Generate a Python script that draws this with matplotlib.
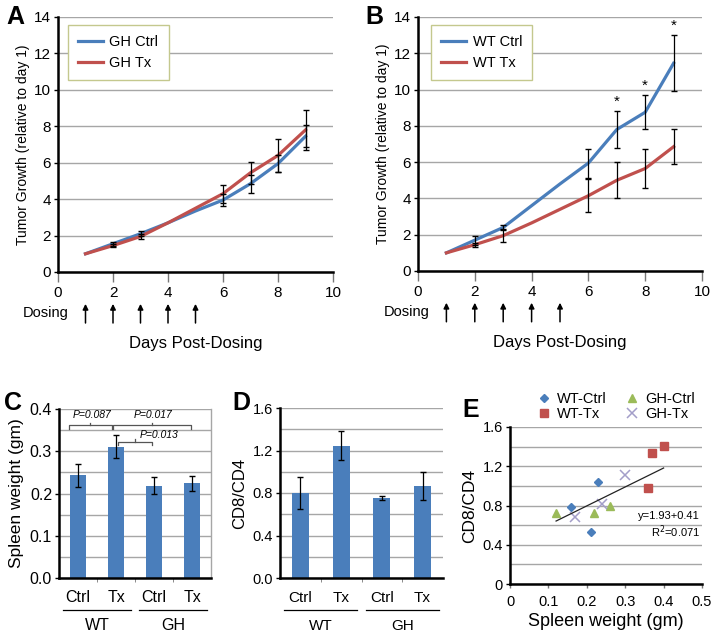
import matplotlib
matplotlib.use('Agg')
from matplotlib import pyplot as plt
import numpy as np

plt.rcParams['font.family'] = ['Liberation Sans', 'DejaVu Sans']

# --- tumour growth, panels A and B ---
days = [1, 2, 3, 4, 5, 6, 7, 8, 9]
gh_ctrl = [1.0, 1.55, 2.1, 2.7, 3.35, 3.95, 4.85, 5.95, 7.45]
gh_ctrl_err = [np.nan, 0.1, 0.15, np.nan, np.nan, 0.35, 0.5, 0.45, 0.6]
gh_tx = [1.0, 1.45, 1.95, 2.7, 3.5, 4.3, 5.45, 6.4, 7.8]
gh_tx_err = [np.nan, 0.1, 0.15, np.nan, np.nan, 0.5, 0.6, 0.9, 1.1]
wt_ctrl = [1.0, 1.7, 2.4, 3.6, 4.8, 5.95, 7.8, 8.75, 11.45]
wt_ctrl_err = [np.nan, 0.25, 0.15, np.nan, np.nan, 0.8, 1.0, 0.95, 1.55]
wt_tx = [1.0, 1.45, 1.95, 2.65, 3.4, 4.15, 5.0, 5.65, 6.85]
wt_tx_err = [np.nan, 0.1, 0.35, np.nan, np.nan, 0.9, 1.0, 1.1, 0.95]
star_days = [7, 8, 9]
dosing_days = [1, 2, 3, 4, 5]

# --- bar panels C and D ---
bar_labels = ['Ctrl', 'Tx', 'Ctrl', 'Tx']
groups = ['WT', 'GH']
spleen = [0.243, 0.311, 0.218, 0.224]
spleen_err = [0.027, 0.028, 0.02, 0.018]
cd_ratio = [0.80, 1.245, 0.755, 0.865]
cd_ratio_err = [0.15, 0.135, 0.02, 0.13]
p_labels = ['P=0.087', 'P=0.017', 'P=0.013']

# --- scatter panel E ---
wtc_x, wtc_y = [0.16, 0.23, 0.21], [0.785, 1.04, 0.525]
wtt_x, wtt_y = [0.37, 0.40, 0.36], [1.34, 1.41, 0.975]
ghc_x, ghc_y = [0.12, 0.22, 0.26], [0.72, 0.72, 0.80]
ght_x, ght_y = [0.17, 0.24, 0.30], [0.68, 0.815, 1.11]
fit_slope, fit_icept, fit_r2 = 1.93, 0.41, 0.071

BLUE = '#4a7ebb'
RED = '#c0504d'
GRID = '#a6a6a6'

W, H = 715, 639
fig = plt.figure(figsize=(W / 100, H / 100), dpi=100)


def box(l, r, t, b):
    return fig.add_axes([l / W, 1 - b / H, (r - l) / W, (b - t) / H])


def style(ax):
    for s in ['top', 'right']:
        ax.spines[s].set_visible(False)
    ax.spines['left'].set_linewidth(1.8)
    ax.spines['bottom'].set_linewidth(1.8)
    ax.set_axisbelow(True)
    ax.yaxis.grid(True, color=GRID, lw=1)
    ax.tick_params(length=3, width=1, color='k', pad=2)


def growth(ax, c, ce, t, te, names, stars, legx):
    style(ax)
    ax.plot(days, c, color=BLUE, lw=2.3, label=names[0])
    ax.plot(days, t, color=RED, lw=2.3, label=names[1])
    ax.errorbar(days, c, yerr=ce, fmt='none', ecolor='k', elinewidth=0.9, capsize=2.5)
    ax.errorbar(days, t, yerr=te, fmt='none', ecolor='k', elinewidth=0.9, capsize=2.5)
    for d in stars:
        i = days.index(d)
        ax.text(d, c[i] + ce[i] + 0.15, '*', ha='center', va='bottom', fontsize=11)
    ax.set_xlim(0, 10)
    ax.set_ylim(0, 14)
    ax.set_xticks(range(0, 11, 2))
    ax.set_yticks(range(0, 15, 2))
    ax.tick_params(labelsize=11)
    ax.tick_params(axis='x', length=7, color='#777777', pad=3)
    ax.set_ylabel('Tumor Growth (relative to day 1)', fontsize=10, labelpad=3)
    leg = ax.legend(loc='upper left', bbox_to_anchor=(legx, 0.969), fontsize=10.5,
                    handlelength=1.7, handletextpad=0.45, borderpad=0.7,
                    labelspacing=0.45, borderaxespad=0,
                    fancybox=False, framealpha=1)
    leg.get_frame().set_edgecolor('#c4c88e')
    leg.get_frame().set_linewidth(1)
    tr = ax.get_xaxis_transform()
    ax.text(0.4, -0.16, 'Dosing', transform=tr, ha='right', va='center', fontsize=10.5)
    for d in dosing_days:
        ax.annotate('', xy=(d, -0.125), xytext=(d, -0.2), xycoords=tr, textcoords=tr,
                    arrowprops=dict(arrowstyle='-|>', color='k', lw=1.1,
                                    mutation_scale=8, shrinkA=0, shrinkB=0))
    ax.text(0.5, -0.28, 'Days Post-Dosing', transform=ax.transAxes,
            ha='center', va='center', fontsize=12)


axA = box(58, 333, 17, 272)
growth(axA, gh_ctrl, gh_ctrl_err, gh_tx, gh_tx_err, ['GH Ctrl', 'GH Tx'], [], 0.036)
axB = box(418, 702, 17, 271)
growth(axB, wt_ctrl, wt_ctrl_err, wt_tx, wt_tx_err, ['WT Ctrl', 'WT Tx'], star_days, 0.046)


def bars(ax, vals, errs, ymax, major, minor, fs, yl):
    style(ax)
    x = np.arange(len(vals))
    ax.bar(x, vals, width=0.42, color=BLUE)
    ax.errorbar(x, vals, yerr=errs, fmt='none', ecolor='k', elinewidth=0.9, capsize=2.5)
    ax.set_xlim(-0.5, len(vals) - 0.5)
    ax.set_ylim(0, ymax)
    ax.set_yticks(np.arange(0, ymax + 1e-9, major))
    ax.set_yticks(np.arange(0, ymax + 1e-9, minor), minor=True)
    ax.yaxis.grid(True, which='both', color=GRID, lw=1)
    ax.tick_params(axis='y', which='minor', length=0)
    ax.set_xticks(x)
    ax.set_xticklabels(bar_labels, fontsize=fs)
    ax.set_xticks([0.5, 1.5, 2.5], minor=True)
    ax.tick_params(axis='x', which='major', length=0, pad=9)
    ax.tick_params(axis='x', which='minor', length=3, color='#777777')
    ax.tick_params(axis='y', labelsize=fs)
    ax.set_ylabel(yl, fontsize=fs + 1)
    tr = ax.get_xaxis_transform()
    for gi, g in enumerate(groups):
        a, b = gi * 2 - 0.4, gi * 2 + 1.4
        ax.plot([a, b], [-0.19, -0.19], transform=tr, color='k', lw=0.9, clip_on=False)
        ax.text(gi * 2 + 0.5, -0.28, g, transform=tr, ha='center', va='center', fontsize=fs)


axC = box(59, 211, 409, 578)
bars(axC, spleen, spleen_err, 0.4, 0.1, 0.05, 11.5, 'Spleen weight (gm)')
axC.spines['right'].set_visible(True)
axC.spines['right'].set_color(GRID)
axC.spines['right'].set_linewidth(1)


def bracket(ax, x0, x1, y, label, tx, ty, ha='center', dy=0.008):
    xm = (x0 + x1) / 2
    ax.plot([x0, x0, x1, x1], [y - dy, y, y, y - dy], color='#555555', lw=0.9)
    ax.plot([xm, xm], [y, y + dy * 0.8], color='#555555', lw=0.9)
    ax.text(tx, ty, label, ha=ha, va='center', fontsize=7.5, style='italic')


bracket(axC, -0.24, 0.89, 0.361, p_labels[0], 0.37, 0.386)
bracket(axC, 0.92, 2.97, 0.361, p_labels[1], 1.97, 0.386)
bracket(axC, 1.05, 1.95, 0.322, p_labels[2], 1.62, 0.338, ha='left')

axD = box(280, 443, 408, 578)
bars(axD, cd_ratio, cd_ratio_err, 1.6, 0.4, 0.2, 11, 'CD8/CD4')
axD.tick_params(axis='y', labelsize=10.5)

# --- panel E ---
axE = box(510, 702, 427, 584)
style(axE)
axE.plot(wtc_x, wtc_y, 'D', color=BLUE, ms=4.5, ls='none', label='WT-Ctrl')
axE.plot(wtt_x, wtt_y, 's', color=RED, ms=6, ls='none', label='WT-Tx')
axE.plot(ghc_x, ghc_y, '^', color='#9bbb59', ms=6, ls='none', label='GH-Ctrl')
axE.plot(ght_x, ght_y, 'x', color='#a39ec9', ms=7, mew=1.1, ls='none', label='GH-Tx')
all_x = wtc_x + wtt_x + ghc_x + ght_x
fx = np.array([min(all_x), max(all_x)])
axE.plot(fx, fit_slope * fx + fit_icept, color='#222222', lw=0.9)
axE.text(0.495, 0.69, 'y=%.2f+%.2f' % (fit_slope, fit_icept), ha='right', va='center',
         fontsize=8)
axE.text(0.495, 0.53, 'R$^2$=%.3f' % fit_r2, ha='right', va='center', fontsize=8)
axE.set_xlim(0, 0.5)
axE.set_ylim(0, 1.6)
axE.set_xticks(np.arange(0, 0.51, 0.1))
axE.set_xticklabels(['0', '0.1', '0.2', '0.3', '0.4', '0.5'])
axE.set_yticks(np.arange(0, 1.61, 0.4))
axE.set_yticklabels(['0', '0.4', '0.8', '1.2', '1.6'])
axE.set_yticks(np.arange(0, 1.61, 0.2), minor=True)
axE.yaxis.grid(True, which='both', color=GRID, lw=1)
axE.tick_params(axis='y', which='minor', length=0)
axE.tick_params(labelsize=10.5)
axE.tick_params(axis='x', color='#777777', pad=5)
axE.set_ylabel('CD8/CD4', fontsize=12.5)
axE.set_xlabel('Spleen weight (gm)', fontsize=13, labelpad=3)
axE.legend(ncol=2, loc='lower center', bbox_to_anchor=(0.55, 0.98), frameon=False,
           fontsize=10.5, handlelength=1.0, handletextpad=0.4, columnspacing=1.2,
           labelspacing=0.1, borderpad=0.1)

for lab, (px, py) in zip('ABCDE', [(6, 5), (365, 5), (4, 391), (232, 391), (462, 398)]):
    fig.text(px / W, 1 - py / H, lab, fontsize=18, fontweight='bold', va='top', ha='left')

fig.savefig('out.png', dpi=100)
